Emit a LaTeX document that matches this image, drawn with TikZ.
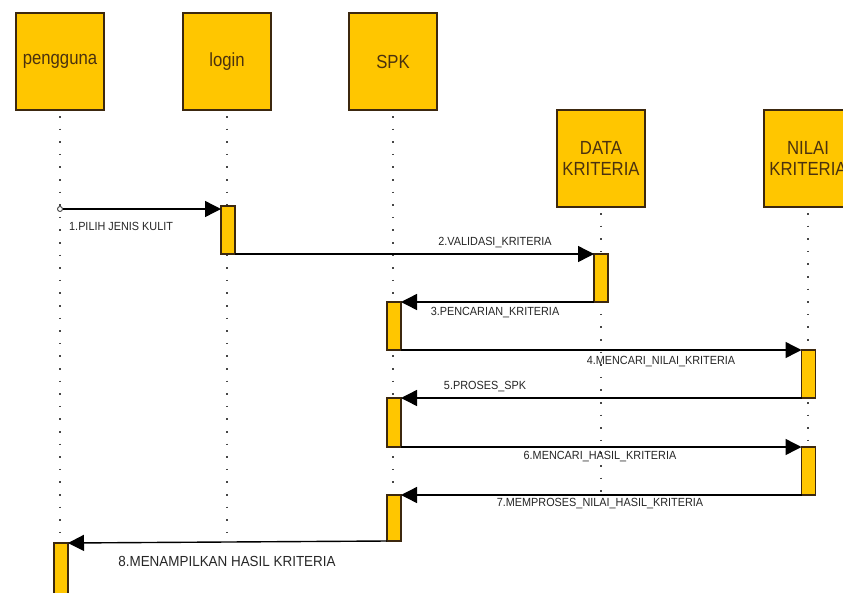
\documentclass[tikz,border=0pt]{standalone}
\usepackage{fontspec}
\setmainfont{Liberation Sans}
\newfontfamily\boxfont[FakeStretch=0.88]{Liberation Sans}
\newfontfamily\lblfont[FakeStretch=0.92]{Liberation Sans}
\usetikzlibrary{arrows.meta}
\definecolor{boxfill}{RGB}{255,198,0}
\definecolor{boxline}{RGB}{60,40,15}
\definecolor{boxtext}{RGB}{75,50,15}
\definecolor{dotgray}{RGB}{70,70,70}
\begin{document}
\begin{tikzpicture}[x=1pt,y=-1pt,
  actor/.style={draw=boxline, line width=1.4pt, fill=boxfill, minimum width=88pt, minimum height=97pt,
    inner sep=0pt, outer sep=0pt, text=boxtext, font=\boxfont\fontsize{19}{21}\selectfont, align=center, anchor=north},
  act/.style={draw=boxline, line width=1.2pt, fill=boxfill, minimum width=14pt, inner sep=0pt, outer sep=0pt, anchor=north},
  life/.style={dotgray, line width=1.4pt, dash pattern=on 1.5pt off 11.1pt},
  msg/.style={line width=1.4pt, -{Triangle[length=16pt,width=16pt]}},
  lbl/.style={font=\lblfont\fontsize{11.8}{13}\selectfont, text=black!85, inner sep=0pt},
  lblbig/.style={font=\lblfont\fontsize{14.6}{16}\selectfont, text=black!85, inner sep=0pt}
]
\useasboundingbox (0,0) rectangle (843,592);
\clip (0,0) rectangle (843,592);
\fill[white] (0,0) rectangle (843,592);

% actors
\node[actor] (peng) at (60,13) {pengguna};
\node[actor] (login) at (227,13) {login};
\node[actor] (spk) at (393,13) {SPK};
\node[actor] (data) at (601,110) {DATA\\KRITERIA};
\node[actor] (nilai) at (808,110) {NILAI\\KRITERIA};

% lifeline ends
\coordinate (pengE) at (60,543);
\coordinate (loginE) at (227,538);
\coordinate (spkE) at (393,541);
\coordinate (dataE) at (601,492);
\coordinate (nilaiE) at (808,495);

\draw[life] ([yshift=-6pt]peng.south) -- (pengE);
\draw[life] ([yshift=-6pt]login.south) -- (loginE);
\draw[life] ([yshift=-6pt]spk.south) -- (spkE);
\draw[life] ([yshift=-6pt]data.south) -- (dataE);
\draw[life] ([yshift=-6pt]nilai.south) -- (nilaiE);

% activations
\node[act, minimum height=48pt] (aL) at (228,206) {};
\node[act, minimum height=48pt] (aD) at (601,254) {};
\node[act, minimum height=48pt] (aS1) at (394,302) {};
\node[act, minimum height=48pt] (aN1) at (808.5,350) {};
\node[act, minimum height=49pt] (aS2) at (394,398) {};
\node[act, minimum height=48pt] (aN2) at (808.5,447) {};
\node[act, minimum height=46pt] (aS3) at (394,495) {};
\node[act, minimum height=60pt] (aP) at (61,543) {};

% messages
\node[draw=dotgray, circle, line width=0.9pt, minimum size=5pt, inner sep=0pt, fill=white] (m1s) at (60,209) {};
\draw[msg] (m1s.east) -- (m1s -| aL.west);
\draw[msg] (aL.south east) -- (aD.north west);
\draw[msg] (aD.south west) -- (aS1.north east);
\draw[msg] (aS1.south east) -- (aN1.north west);
\draw[msg] (aN1.south west) -- (aS2.north east);
\draw[msg] (aS2.south east) -- (aN2.north west);
\draw[msg] (aN2.south west) -- (aS3.north east);
\draw[msg] (aS3.south west) -- (aP.north east);

% labels
\node[lbl, anchor=west] (l1) at (69,226) {1.PILIH JENIS KULIT};
\node[lbl] (l2) at (495,243) {2.VALIDASI\_KRITERIA};
\node[lbl] (l3) at (495,313) {3.PENCARIAN\_KRITERIA};
\node[lbl] (l4) at (661,362) {4.MENCARI\_NILAI\_KRITERIA};
\node[lbl] (l5) at (485,387) {5.PROSES\_SPK};
\node[lbl] (l6) at (600,457) {6.MENCARI\_HASIL\_KRITERIA};
\node[lbl] (l7) at (600,504) {7.MEMPROSES\_NILAI\_HASIL\_KRITERIA};
\node[lblbig] (l8) at (227,561) {8.MENAMPILKAN HASIL KRITERIA};
\end{tikzpicture}
\end{document}
